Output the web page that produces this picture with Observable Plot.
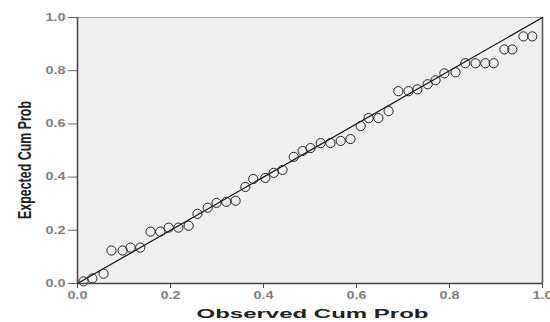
<!DOCTYPE html>
<html><head><meta charset="utf-8">
<script src="https://cdn.jsdelivr.net/npm/d3@7"></script>
<script src="https://cdn.jsdelivr.net/npm/@observablehq/plot@0.6"></script>
<style>body{margin:0;background:#fff}</style>
</head><body><div id="chart"></div>
<script>
const observed = [0.013,0.032,0.056,0.073,0.097,0.114,0.135,0.157,0.178,0.196,0.217,0.239,0.258,0.280,0.299,0.320,0.340,0.361,0.378,0.404,0.422,0.441,0.465,0.484,0.501,0.523,0.544,0.566,0.587,0.609,0.626,0.647,0.669,0.690,0.712,0.731,0.753,0.770,0.789,0.813,0.834,0.856,0.877,0.895,0.918,0.935,0.959,0.978];
const expected = [0.008,0.019,0.037,0.124,0.124,0.135,0.135,0.195,0.195,0.210,0.210,0.217,0.262,0.285,0.303,0.307,0.311,0.363,0.393,0.397,0.416,0.427,0.476,0.498,0.509,0.528,0.528,0.536,0.543,0.592,0.622,0.622,0.648,0.723,0.723,0.730,0.749,0.764,0.790,0.794,0.828,0.828,0.828,0.828,0.880,0.880,0.929,0.929];
const xTicks = [0, 0.2, 0.4, 0.6, 0.8, 1.0];
const yTicks = [0, 0.2, 0.4, 0.6, 0.8, 1.0];
const refLine = [0, 1];
const xTitle = "Observed Cum Prob";
const yTitle = "Expected Cum Prob";

const data = observed.map((x, i) => ({x, y: expected[i]}));
const fmt = d3.format(".1f");

const chart = Plot.plot({
  width: 550, height: 322,
  marginLeft: 77, marginRight: 8, marginTop: 17, marginBottom: 39,
  style: {fontFamily: "'Liberation Sans', Arial, sans-serif", background: "#fff"},
  x: {domain: [0, 1]},
  y: {domain: [0, 1]},
  marks: [
    Plot.frame({fill: "#efefef", stroke: "#a9a9a9"}),
    Plot.ruleX([1], {stroke: "#555", strokeWidth: 1.5}),
    Plot.line(refLine, {x: d => d, y: d => d, stroke: "#111", strokeWidth: 1.2}),
    Plot.dot(data, {x: "x", y: "y", r: 4.6, stroke: "#222", strokeWidth: 1, fill: "none"}),
    Plot.axisX({ticks: xTicks, tickFormat: fmt, tickSize: 5, tickPadding: 3, stroke: "#444",
      fill: "#808080", fontSize: 10.5, label: null}),
    Plot.axisY({ticks: yTicks, tickFormat: fmt, tickSize: 9, tickPadding: 3, stroke: "#666",
      fill: "#808080", fontSize: 10.5, label: null}),
    Plot.ruleX([0], {stroke: "#444", strokeWidth: 1.5}),
    Plot.ruleY([0], {stroke: "#444", strokeWidth: 1.5}),
    Plot.text([xTitle], {text: d => d, frameAnchor: "bottom", textAnchor: "middle", lineAnchor: "middle", dx: 2.5, dy: 30,
      fontSize: 13, fontWeight: "bold", fill: "#222"}),
    Plot.text([yTitle], {text: d => d, frameAnchor: "left", textAnchor: "middle", lineAnchor: "middle", rotate: -90, dx: -53, dy: 9.5,
      fontSize: 19, fontWeight: "bold", fill: "#222"})
  ]
});
document.getElementById("chart").appendChild(chart);

const svg = d3.select(chart);
svg.selectAll("g[aria-label='x-axis tick label'] text, g[aria-label='y-axis tick label'] text")
  .style("font-weight", "bold")
  .attr("textLength", 20).attr("lengthAdjust", "spacingAndGlyphs");
svg.selectAll("text").filter(function() { return this.textContent === xTitle; })
  .attr("textLength", 232).attr("lengthAdjust", "spacingAndGlyphs");
svg.selectAll("text").filter(function() { return this.textContent === yTitle; })
  .attr("textLength", 118).attr("lengthAdjust", "spacingAndGlyphs");
</script>
</body></html>
